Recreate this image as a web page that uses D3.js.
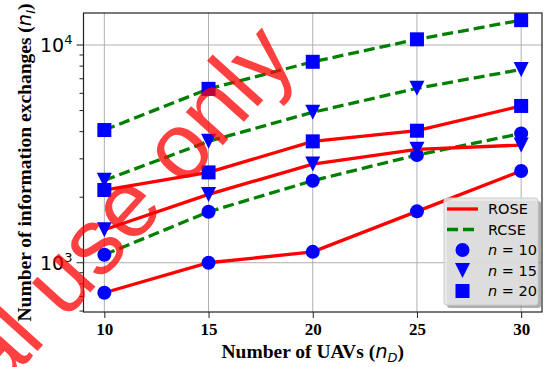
<!doctype html>
<html lang="en">
<head>
  <meta charset="utf-8">
  <title>Information exchanges vs UAVs</title>
  <script src="https://d3js.org/d3.v7.min.js"></script>
  <style>
    html, body { margin: 0; padding: 0; background: #fff; }
    #chart svg { display: block; }
    .grid line { stroke: #b0b0b0; stroke-width: 1; }
    .axis path, .axis line { stroke: #222; }
    .xtick text { font-family: "Liberation Serif", serif; font-weight: bold; font-size: 17px; }
    .label { font-family: "Liberation Serif", serif; font-weight: bold; font-size: 19.5px; }
    .math { font-family: "DejaVu Sans", sans-serif; font-style: italic; font-weight: normal; }
    .legend text { font-family: "DejaVu Sans", sans-serif; font-size: 14.5px; }
  </style>
</head>
<body>
  <div id="chart"></div>
  <script>
    const uavs = [10, 15, 20, 25, 30];
    const yTicks = [1000, 10000];
    const roseN10 = [728, 1000, 1122, 1722, 2640];
    const rcseN10 = [1088, 1714, 2382, 3125, 3920];
    const roseN15 = [1418, 2060, 2840, 3318, 3472];
    const rcseN15 = [2390, 3610, 4910, 6325, 7720];
    const roseN20 = [2158, 2600, 3610, 4040, 5250];
    const rcseN20 = [4069, 6290, 8375, 10620, 13010];

    const series = [
      { method: 'ROSE', n: 10, values: roseN10 },
      { method: 'RCSE', n: 10, values: rcseN10 },
      { method: 'ROSE', n: 15, values: roseN15 },
      { method: 'RCSE', n: 15, values: rcseN15 },
      { method: 'ROSE', n: 20, values: roseN20 },
      { method: 'RCSE', n: 20, values: rcseN20 }
    ];
    const legendLines = ['ROSE', 'RCSE'];
    const legendMarkers = [10, 15, 20];

    const width = 547, height = 367;
    const margin = { top: 13, right: 5, bottom: 55, left: 83.5 };
    const innerW = width - margin.left - margin.right;
    const innerH = height - margin.top - margin.bottom;

    const lineColor = { ROSE: '#ff0000', RCSE: '#008000' };
    const lineDash = { ROSE: null, RCSE: '11,5' };

    function marker(sel, n) {
      if (n === 15) {
        sel.append('path').attr('d', 'M-7.5,-7.5L7.5,-7.5L0,7.5Z').attr('fill', '#0000ff');
      } else if (n === 10) {
        sel.append('circle').attr('r', 7).attr('fill', '#0000ff');
      } else {
        sel.append('rect').attr('x', -7).attr('y', -7).attr('width', 14).attr('height', 14).attr('fill', '#0000ff');
      }
    }

    const svg = d3.select('#chart').append('svg')
      .attr('width', width).attr('height', height);
    const g = svg.append('g').attr('transform', `translate(${margin.left},${margin.top})`);

    const x = d3.scaleLinear().domain([9, 31]).range([0, innerW]);
    const y = d3.scaleLog().domain([594, 14030]).range([innerH, 0]);

    // grid
    const grid = g.append('g').attr('class', 'grid');
    uavs.forEach(v => grid.append('line').attr('x1', x(v)).attr('x2', x(v)).attr('y1', 0).attr('y2', innerH));
    yTicks.forEach(v => grid.append('line').attr('x1', 0).attr('x2', innerW).attr('y1', y(v)).attr('y2', y(v)));

    // lines + markers
    const lineGen = d3.line().x((d, i) => x(uavs[i])).y(d => y(d));
    series.forEach(s => {
      g.append('path')
        .datum(s.values)
        .attr('fill', 'none')
        .attr('stroke', lineColor[s.method])
        .attr('stroke-width', 3.3)
        .attr('stroke-dasharray', lineDash[s.method])
        .attr('d', lineGen);
      s.values.forEach((v, i) => {
        const m = g.append('g').attr('transform', `translate(${x(uavs[i])},${y(v)})`);
        marker(m, s.n);
      });
    });

    // frame
    g.append('rect').attr('width', innerW).attr('height', innerH)
      .attr('fill', 'none').attr('stroke', '#222').attr('stroke-width', 1.2);

    // x axis
    const xAxis = g.append('g').attr('class', 'axis xtick')
      .attr('transform', `translate(0,${innerH})`)
      .call(d3.axisBottom(x).tickValues(uavs).tickSize(6).tickPadding(5).tickFormat(d3.format('d')));
    xAxis.select('.domain').remove();
    xAxis.selectAll('text').attr('fill', '#000');

    // y axis (log, with minor ticks)
    const minor = [];
    [100, 1000].forEach(b => d3.range(2, 10).forEach(k => {
      const v = b * k;
      if (v > y.domain()[0] && v < y.domain()[1]) minor.push(v);
    }));
    const yAxis = g.append('g').attr('class', 'axis');
    yAxis.selectAll('.minor').data(minor).join('line')
      .attr('x1', 0).attr('x2', -4).attr('y1', d => y(d)).attr('y2', d => y(d))
      .attr('stroke', '#222');
    yAxis.selectAll('.major').data(yTicks).join('line')
      .attr('x1', 0).attr('x2', -7).attr('y1', d => y(d)).attr('y2', d => y(d))
      .attr('stroke', '#222');
    const yl = yAxis.selectAll('.ytick').data(yTicks).join('text')
      .attr('class', 'ytick')
      .attr('x', -11).attr('y', d => y(d) + 7)
      .attr('text-anchor', 'end')
      .style('font-family', '"DejaVu Sans", sans-serif').style('font-size', '19px');
    yl.append('tspan').text('10');
    yl.append('tspan').attr('dy', -8).style('font-size', '13px').text(d => Math.round(Math.log10(d)));

    // axis labels
    const xl = svg.append('text').attr('class', 'label')
      .attr('x', margin.left + innerW / 2).attr('y', 358).attr('text-anchor', 'middle');
    xl.append('tspan').text('Number of UAVs (');
    xl.append('tspan').attr('class', 'math').text('n');
    xl.append('tspan').attr('class', 'math').attr('dy', 4).style('font-size', '13px').text('D');
    xl.append('tspan').attr('dy', -4).text(')');

    const ylab = svg.append('text').attr('class', 'label')
      .attr('transform', `translate(31,${margin.top + innerH / 2}) rotate(-90)`)
      .attr('text-anchor', 'middle');
    ylab.append('tspan').text('Number of information exchanges (');
    ylab.append('tspan').attr('class', 'math').text('n');
    ylab.append('tspan').attr('class', 'math').attr('dy', 4).style('font-size', '13px').text('I');
    ylab.append('tspan').attr('dy', -4).text(')');

    // legend
    const lg = svg.append('g').attr('class', 'legend').attr('transform', 'translate(444,198)');
    lg.append('rect').attr('x', 3).attr('y', 3).attr('width', 94).attr('height', 107).attr('rx', 3)
      .attr('fill', '#8c8c8c').attr('opacity', 0.7);
    lg.append('rect').attr('width', 94).attr('height', 107).attr('rx', 3)
      .attr('fill', '#e5e5e5').attr('fill-opacity', 0.85).attr('stroke', '#cccccc');
    legendLines.forEach((m, i) => {
      const yy = 11 + i * 20.5;
      lg.append('line').attr('x1', 3).attr('x2', 34).attr('y1', yy).attr('y2', yy)
        .attr('stroke', lineColor[m]).attr('stroke-width', 3.3).attr('stroke-dasharray', lineDash[m]);
      lg.append('text').attr('x', 44).attr('y', yy + 5).text(m);
    });
    legendMarkers.forEach((n, i) => {
      const yy = 11 + (i + 2) * 20.5;
      const mg = lg.append('g').attr('transform', `translate(18.5,${yy})`);
      marker(mg, n);
      const t = lg.append('text').attr('x', 44).attr('y', yy + 5);
      t.append('tspan').style('font-style', 'italic').text('n');
      t.append('tspan').text(' = ' + n);
    });

    // watermark
    svg.append('text')
      .attr('transform', 'translate(299,60.6) rotate(-48)')
      .attr('text-anchor', 'end')
      .style('font-family', '"Liberation Sans", Arial, sans-serif')
      .style('font-size', '94px')
      .attr('fill', '#ff0000').attr('fill-opacity', 0.75)
      .text('For personal use only');
  </script>
</body>
</html>
